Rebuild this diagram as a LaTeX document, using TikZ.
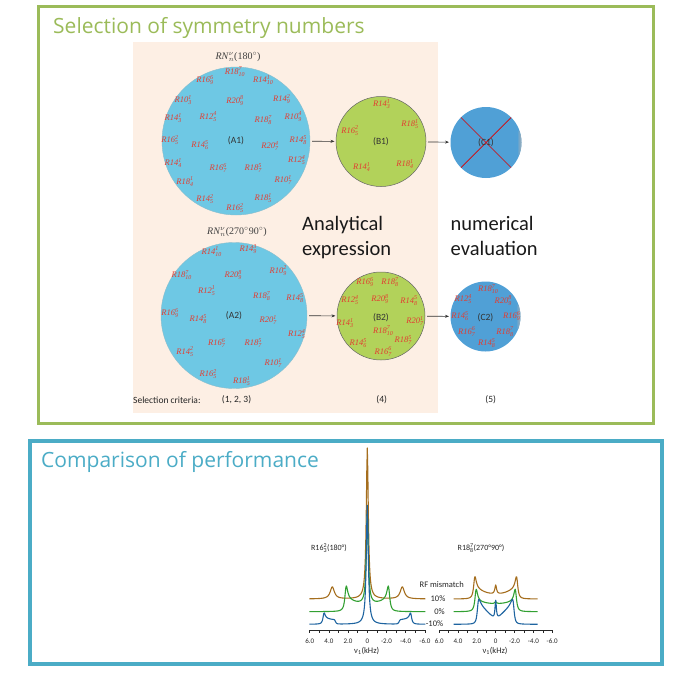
\documentclass[tikz,border=0pt]{standalone}
\usepackage{amsmath}
\usepackage{fontspec}
\setmainfont{Liberation Serif}
\newfontfamily\carl{Carlito}
\newfontfamily\ttlfont{Open Sans}
\usetikzlibrary{arrows.meta}
\definecolor{peach}{RGB}{253,239,228}
\definecolor{acol}{RGB}{110,200,228}
\definecolor{bcol}{RGB}{178,210,90}
\definecolor{ccol}{RGB}{80,160,214}
\definecolor{rred}{RGB}{226,62,50}
\definecolor{gframe}{RGB}{155,187,89}
\definecolor{bframe}{RGB}{75,172,198}
\definecolor{tbrown}{RGB}{165,110,30}
\definecolor{tgreen}{RGB}{50,160,50}
\definecolor{tblue}{RGB}{30,100,160}
\newcommand{\Rs}[3]{$\textit{R#1}^{\textit{#2}}_{\textit{#3}}$}
\newcommand{\Rsf}[3]{$\text{R#1}^{\text{#2}}_{\text{#3}}$}
\begin{document}
\begin{tikzpicture}[x=1pt,y=-1pt,
  declare function={lor(\v,\w)=1/(1+(\v/\w)*(\v/\w));
    win(\u,\r,\s)=1/(1+exp(min(max((abs(\u)-\r)/\s,-9),9)));
    rise(\u,\r,\s)=1/(1+exp(min(max((\r-abs(\u))/\s,-9),9)));},
  acirc/.style={circle,draw=acol!80!black!70,line width=0.4pt,fill=acol,inner sep=0,outer sep=0},
  bcirc/.style={circle,draw=black!60,line width=0.5pt,fill=bcol,inner sep=0,outer sep=0},
  ccirc/.style={circle,fill=ccol,inner sep=0,outer sep=0},
  clab/.style={inner sep=0,font=\carl\fontsize{9.5}{10}\selectfont,text=black!80},
  rl/.style={inner sep=0,text=rred,font=\fontsize{8.5}{9}\selectfont},
  arr/.style={draw=black!80,line width=0.6pt,-{Stealth[length=4pt,width=3pt]},shorten <=2pt,shorten >=1.5pt},
  bigtxt/.style={inner sep=0,align=left,anchor=west,font=\carl\fontsize{20.5}{25}\selectfont,text=black!90},
  smalltxt/.style={inner sep=0,font=\carl\fontsize{9.5}{10}\selectfont,text=black!85},
  ttl/.style={anchor=base west,inner sep=0,font=\ttlfont\fontsize{21}{21}\selectfont},
  trace/.style={line width=1.1pt,line join=round},
  axisline/.style={line width=0.5pt,draw=black!85},
  ticklab/.style={inner sep=0,font=\carl\fontsize{7}{7}\selectfont,text=black!85},
  speclab/.style={inner sep=0,font=\carl\fontsize{8.5}{9}\selectfont,text=black!85}]
\useasboundingbox (0,0) rectangle (688,672);
% frames
\draw[gframe,line width=3.5pt] (38.5,6.7) rectangle (653.5,423.3);
\draw[bframe,line width=4pt] (30,440.5) rectangle (661.5,663.5);
\node[ttl,text=gframe] (t1) at (53,33.3) {Selection of symmetry numbers};
\node[ttl,text=bframe] (t2) at (41,467) {Comparison of performance};
% peach background
\fill[peach] (133,42) rectangle (438,413);
% circles
\node[acirc,minimum size=148pt] (A1) at (236,141) {};
\node[acirc,minimum size=146pt] (A2) at (234,315.5) {};
\node[bcirc,minimum size=90pt] (B1) at (381,141.5) {};
\node[bcirc,minimum size=88pt] (B2) at (381,316) {};
\node[ccirc,minimum size=71pt] (C1) at (486,142.5) {};
\node[ccirc,minimum size=70pt] (C2) at (485.5,316.5) {};
\begin{scope}
  \clip (486,142.5) circle (35.5);
  \shade[left color=ccol,right color=gray!60] (517,131) rectangle (522,154);
\end{scope}
\begin{scope}
  \clip (485.5,316.5) circle (35);
  \shade[left color=ccol,right color=gray!60] (516,305) rectangle (521,328);
\end{scope}
\draw[red!85!black,line width=0.7pt] (C1.north west) -- (C1.south east);
\draw[red!85!black,line width=0.7pt] (C1.north east) -- (C1.south west);
\node[clab] (A1t) at (A1.center) {(A1)};
\node[clab] (A2t) at (A2.center) {(A2)};
\node[clab] (B1t) at (B1.center) {(B1)};
\node[clab] (B2t) at ([yshift=-2pt]B2.center) {(B2)};
\node[clab] (C1t) at (C1.center) {(C1)};
\node[clab] (C2t) at ([yshift=-1pt]C2.center) {(C2)};
% arrows
\draw[arr] (A1) -- (B1);
\draw[arr] (B1) -- (C1);
\draw[arr] (A2) -- (B2);
\draw[arr] (B2) -- (C2);
% RN labels
\node[inner sep=0,font=\fontsize{10}{10}\selectfont,text=black!75] (rn1) at (238,57) {\textit{RN}$^{\nu}_{n}$(180$^{\circ}$)};
\node[inner sep=0,font=\fontsize{10}{10}\selectfont,text=black!75] (rn2) at (237,232) {\textit{RN}$^{\nu}_{n}$(270$^{\circ}$90$^{\circ}$)};
% A1 labels
\foreach \px/\py/\lab [count=\i] in {235/71.7/\Rs{18}{7}{10}, 205/80/\Rs{16}{6}{9}, 263.3/80/\Rs{14}{1}{10}, 183.3/100/\Rs{10}{1}{3}, 235/100.7/\Rs{20}{8}{9}, 281.7/99.3/\Rs{14}{2}{9}, 173.3/118.3/\Rs{14}{1}{3}, 208.3/116.7/\Rs{12}{4}{5}, 263.3/120/\Rs{18}{7}{8}, 293.3/116.7/\Rs{10}{4}{9}, 170/140/\Rs{16}{2}{5}, 200/145/\Rs{14}{5}{6}, 270/146/\Rs{20}{4}{7}, 298.3/140/\Rs{14}{5}{8}, 173.3/163.3/\Rs{14}{1}{4}, 218.3/168.3/\Rs{16}{6}{7}, 253.3/168.3/\Rs{18}{5}{7}, 296.7/160/\Rs{12}{4}{5}, 185/181.7/\Rs{18}{1}{4}, 283.3/180/\Rs{10}{1}{7}, 205/199.3/\Rs{14}{2}{5}, 263.3/198.3/\Rs{18}{1}{5}, 235/208.3/\Rs{16}{2}{5}}
  {\node[rl] (la\i) at (\px,\py) {\lab};}
% A2 labels
\foreach \px/\py/\lab [count=\i] in {211.7/251.7/\Rs{14}{1}{10}, 248.3/249.3/\Rs{14}{3}{9}, 181.7/275/\Rs{18}{7}{10}, 233.3/275/\Rs{20}{8}{9}, 278.3/270.7/\Rs{10}{2}{9}, 206.7/290.7/\Rs{12}{1}{5}, 261.7/296/\Rs{18}{7}{8}, 295/298.3/\Rs{14}{5}{8}, 170/313.3/\Rs{16}{6}{9}, 198.3/319.3/\Rs{14}{5}{8}, 268.3/320/\Rs{20}{1}{7}, 296.7/334.3/\Rs{12}{4}{5}, 216.7/343.3/\Rs{16}{6}{7}, 253.3/343.3/\Rs{18}{5}{7}, 185/351.7/\Rs{14}{2}{5}, 273.3/363.3/\Rs{10}{1}{7}, 208.3/374.3/\Rs{16}{2}{5}, 241.7/381/\Rs{18}{1}{5}}
  {\node[rl] (lb\i) at (\px,\py) {\lab};}
% B1 labels
\foreach \px/\py/\lab [count=\i] in {381.7/104/\Rs{14}{1}{3}, 350/130.7/\Rs{16}{2}{5}, 410/124.3/\Rs{18}{1}{5}, 361.7/167.3/\Rs{14}{1}{4}, 405/164/\Rs{18}{1}{4}}
  {\node[rl] (lc\i) at (\px,\py) {\lab};}
% B2 labels
\foreach \px/\py/\lab [count=\i] in {365/282.3/\Rs{16}{6}{9}, 390/282.3/\Rs{18}{7}{8}, 350/300/\Rs{12}{4}{5}, 380/299.3/\Rs{20}{8}{9}, 409/300.7/\Rs{14}{5}{8}, 345/323.3/\Rs{14}{1}{3}, 415/321/\Rs{20}{1}{7}, 383.3/330.7/\Rs{18}{7}{10}, 358.3/343.3/\Rs{14}{5}{6}, 403.3/340/\Rs{18}{5}{7}, 383.3/351.7/\Rs{16}{6}{7}}
  {\node[rl] (ld\i) at (\px,\py) {\lab};}
% C2 labels
\foreach \px/\py/\lab [count=\i] in {488.3/289.3/\Rs{18}{7}{10}, 463.3/299.3/\Rs{12}{4}{5}, 503.3/300.7/\Rs{20}{8}{9}, 460/316/\Rs{14}{5}{6}, 511.7/316/\Rs{16}{6}{9}, 466.7/331.7/\Rs{16}{6}{7}, 505/331.7/\Rs{18}{7}{8}, 486.7/343.3/\Rs{14}{5}{8}}
  {\node[rl] (le\i) at (\px,\py) {\lab};}
% texts
\node[bigtxt] (an) at (302,237.5) {Analytical\\expression};
\node[bigtxt] (nu) at (450.5,236) {numerical\\evaluation};
\node[smalltxt,anchor=west] (sc) at (133,400) {Selection criteria:};
\node[smalltxt,anchor=west] (s1) at (221.7,400) {(1, 2, 3)};
\node[smalltxt] (s4) at (381.7,400) {(4)};
\node[smalltxt] (s5) at (490.7,400) {(5)};
% spectra: left
\draw[trace,tbrown] plot[domain=-58:58,samples=233] ({367.3+\x},{599-151*lor(\x,1.2)-12*lor(abs(\x)-35,2.5)});
\draw[trace,tgreen] plot[domain=-58:58,samples=233] ({367.3+\x},{611.7-90*lor(\x,1.2)-18*lor(abs(\x)-21.3,1.6)-(7.5+6*(\x/21.3)*(\x/21.3))*win(\x,21.3,0.7)});
\draw[trace,tblue] plot[domain=-58:58,samples=233] ({367.3+\x},{624.3-119*lor(\x,1.2)-8*lor(abs(\x)-43.4,1.3)-1.5*lor(abs(\x)-32.3,1.2)-(4+2*(abs(\x)-32.3)/11)*rise(\x,32.3,0.6)*win(\x,43.4,0.6)});
% spectra: right
\draw[trace,tbrown] plot[domain=-42:42,samples=169] ({495.7+\x},{599-9*lor(\x,1.0)-16*lor(abs(\x)-21,1.5)-(5+7*(\x/21)*(\x/21))*win(\x,21,0.7)});
\draw[trace,tgreen] plot[domain=-42:42,samples=169] ({495.7+\x},{611.7-2*lor(\x,1.0)-16.5*lor(abs(\x)-19.7,1.5)-(8+3*(\x/19.7)*(\x/19.7))*win(\x,19.7,0.7)});
\draw[trace,tblue] plot[domain=-42:42,samples=169] ({495.7+\x},{624.3-20*lor(\x,0.8)-12*lor(abs(\x)-17.5,1.5)-(4+abs(\x))*win(\x,17.5,0.7)});
% axes
\draw[axisline] (309,630.7) -- (425.5,630.7);
\foreach \k in {-6,...,6} {\draw[axisline] ({367.3-9.6*\k},630.7) -- ({367.3-9.6*\k},633.2);}
\draw[axisline] (439,630.7) -- (553,630.7);
\foreach \k in {-6,...,6} {\draw[axisline] ({495.7-9.42*\k},630.7) -- ({495.7-9.42*\k},633.2);}
\foreach \k/\t [count=\i] in {6/6.0,4/4.0,2/2.0,0/0,-2/-2.0,-4/-4.0,-6/-6.0}
  {\node[ticklab] (tl\i) at ({367.3-9.6*\k},641) {\t};
   \node[ticklab] (tr\i) at ({495.7-9.42*\k},641) {\t};}
\node[speclab] (xl1) at (366.7,651) {ν$_{\text{1}}$(kHz)};
\node[speclab] (xl2) at (495,651) {ν$_{\text{1}}$(kHz)};
\node[speclab,font=\carl\fontsize{8}{8}\selectfont] (sl1) at (329,548.3) {\Rsf{16}{2}{3}(180°)};
\node[speclab,font=\carl\fontsize{8}{8}\selectfont] (sl2) at (481,548.3) {\Rsf{18}{7}{8}(270°90°)};
\node[speclab] (rf) at (441.7,585) {RF mismatch};
\node[speclab] (p10) at (438,598.3) {10\%};
\node[speclab] (p0) at (439.5,611.7) {0\%};
\node[speclab] (m10) at (434.5,623.5) {-10\%};
\end{tikzpicture}
\end{document}
